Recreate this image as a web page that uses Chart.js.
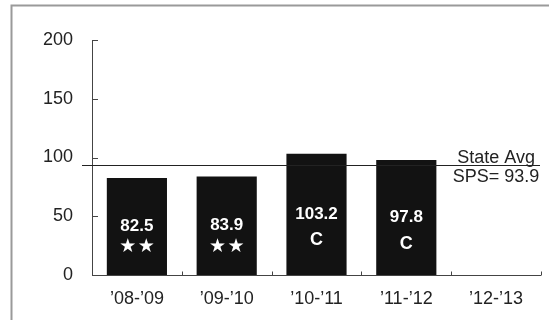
<!DOCTYPE html>
<html>
<head>
<meta charset="utf-8">
<script src="https://cdn.jsdelivr.net/npm/chart.js@4/dist/chart.umd.min.js"></script>
<style>
html,body{margin:0;padding:0;background:#fff;}
#wrap{width:549px;height:320px;position:relative;}
</style>
</head>
<body>
<div id="wrap"><canvas id="c" width="549" height="320"></canvas></div>
<script>
const categories = ["\u201908-\u201909", "\u201909-\u201910", "\u201910-\u201911", "\u201911-\u201912", "\u201912-\u201913"];
const spsScores = [82.5, 83.9, 103.2, 97.8, null];
const ratings = ["\u2605\u2605", "\u2605\u2605", "C", "C", ""];
const stateAvg = 93.9;
const stateAvgLabel = ["State Avg", "SPS= 93.9"];
const yTicks = [0, 50, 100, 150, 200];

const FONT = "'Liberation Sans', Arial, sans-serif";
const AXIS = "#444";

const decor = {
  id: 'decor',
  beforeDraw(chart) {
    const ctx = chart.ctx;
    ctx.save();
    ctx.fillStyle = '#fff';
    ctx.fillRect(0, 0, chart.width, chart.height);
    ctx.strokeStyle = '#9a9a9a';
    ctx.lineWidth = 2;
    ctx.beginPath();
    ctx.moveTo(11.5, chart.height);
    ctx.lineTo(11.5, 5.5);
    ctx.lineTo(chart.width, 5.5);
    ctx.stroke();
    ctx.restore();
  },
  afterDatasetsDraw(chart) {
    const ctx = chart.ctx;
    const x = chart.scales.x, y = chart.scales.y;
    const area = chart.chartArea;
    ctx.save();
    ctx.strokeStyle = AXIS;
    ctx.lineWidth = 1;
    ctx.beginPath();
    ctx.moveTo(area.left + 0.5, y.getPixelForValue(200));
    ctx.lineTo(area.left + 0.5, y.getPixelForValue(0));
    yTicks.forEach(v => {
      const py = Math.round(y.getPixelForValue(v)) + 0.5;
      ctx.moveTo(area.left, py);
      ctx.lineTo(area.left + 6, py);
    });
    const by = Math.round(y.getPixelForValue(0)) + 0.5;
    ctx.moveTo(area.left, by);
    ctx.lineTo(area.right, by);
    for (let i = 0; i < categories.length; i++) {
      const bx = i < categories.length - 1
        ? (x.getPixelForValue(i) + x.getPixelForValue(i + 1)) / 2
        : area.right;
      ctx.moveTo(Math.round(bx) + 0.5, by);
      ctx.lineTo(Math.round(bx) + 0.5, by - 4);
    }
    ctx.stroke();

    const sy = Math.round(y.getPixelForValue(stateAvg)) + 0.5;
    ctx.strokeStyle = '#222';
    ctx.beginPath();
    ctx.moveTo(area.left - 10, sy);
    ctx.lineTo(area.right - 1, sy);
    ctx.stroke();

    const lx = x.getPixelForValue(categories.length - 1);
    ctx.fillStyle = '#222';
    ctx.font = '18px ' + FONT;
    ctx.textAlign = 'center';
    ctx.textBaseline = 'middle';
    ctx.fillText(stateAvgLabel[0], lx, sy - 7);
    ctx.fillText(stateAvgLabel[1], lx, sy + 12);

    const meta = chart.getDatasetMeta(0);
    meta.data.forEach((bar, i) => {
      const v = spsScores[i];
      if (v == null) return;
      const mid = (bar.y + bar.base) / 2;
      ctx.fillStyle = '#fff';
      ctx.font = 'bold 17px ' + FONT;
      ctx.fillText(v.toFixed(1), bar.x, mid);
      const r = ratings[i];
      if (r === 'C') {
        ctx.font = 'bold 18px ' + FONT;
        ctx.fillText(r, bar.x, mid + 26);
      } else {
        ctx.font = "19px 'DejaVu Sans', sans-serif";
        const chars = Array.from(r);
        const step = 18.5;
        chars.forEach((ch, k) => {
          ctx.fillText(ch, bar.x + (k - (chars.length - 1) / 2) * step, mid + 21);
        });
      }
    });
    ctx.restore();
  }
};

new Chart(document.getElementById('c'), {
  type: 'bar',
  data: {
    labels: categories,
    datasets: [{
      data: spsScores,
      backgroundColor: '#121212',
      borderWidth: 0,
      barPercentage: 0.67,
      categoryPercentage: 1.0
    }]
  },
  options: {
    responsive: false,
    animation: false,
    devicePixelRatio: 1,
    layout: { padding: { left: 12, top: 40, right: 8, bottom: 0 } },
    plugins: { legend: { display: false }, tooltip: { enabled: false } },
    scales: {
      x: {
        grid: { display: false, drawTicks: false },
        border: { display: false },
        ticks: { color: '#222', font: { family: FONT, size: 18 }, padding: 13, maxRotation: 0 },
        afterFit(s) { s.height = 45; }
      },
      y: {
        min: 0, max: 200,
        afterBuildTicks(s) { s.ticks = yTicks.map(v => ({ value: v })); },
        grid: { display: false, drawTicks: false },
        border: { display: false },
        ticks: { color: '#222', font: { family: FONT, size: 18 }, padding: 19 },
        afterFit(s) { s.width = 80; }
      }
    }
  },
  plugins: [decor]
});
</script>
</body>
</html>
